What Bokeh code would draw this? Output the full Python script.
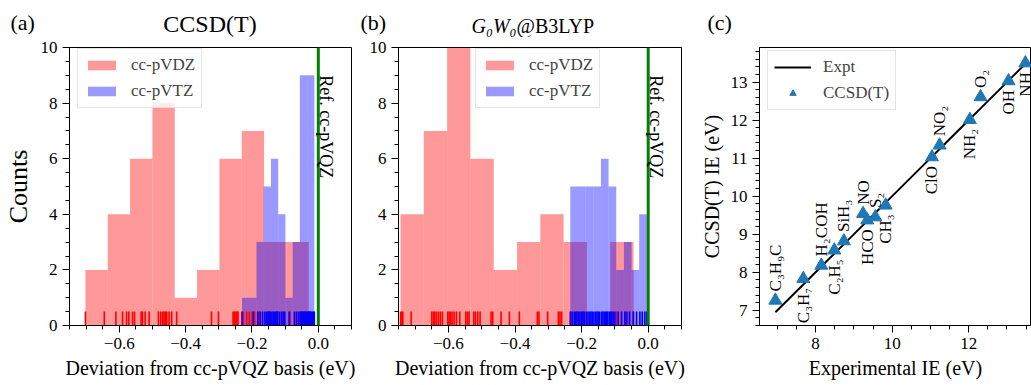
import numpy as np
from bokeh.plotting import figure
from bokeh.layouts import row, column
from bokeh.models import (FixedTicker, CustomJSTickFormatter, Label, Span,
                          Range1d, ColumnDataSource)
from bokeh.embed import file_html
from bokeh.resources import INLINE
from bokeh.core.properties import value

# ---------------- data ----------------
# deviations from cc-pVQZ (eV), one value per molecule
ccsd_dz = [-0.702, -0.645,
           -0.610, -0.590, -0.578, -0.571,
           -0.560, -0.554, -0.534, -0.530, -0.522, -0.510,
           -0.482, -0.475, -0.469, -0.465, -0.461, -0.457, -0.450, -0.442,
           -0.427,
           -0.322, -0.301,
           -0.257, -0.254, -0.251, -0.248, -0.245, -0.242,
           -0.226, -0.216, -0.208, -0.200, -0.192, -0.183, -0.176,
           -0.150, -0.122, -0.105,
           -0.085, -0.058, -0.029]
ccsd_tz = [-0.230,
           -0.196,
           -0.182, -0.175, -0.168,
           -0.161, -0.156, -0.152, -0.148, -0.145,
           -0.140, -0.136, -0.132, -0.128, -0.125, -0.123,
           -0.117, -0.111, -0.106, -0.101,
           -0.088,
           -0.072, -0.066, -0.060,
           -0.054, -0.052, -0.050, -0.047, -0.045, -0.042, -0.040, -0.038, -0.036,
           -0.032, -0.030, -0.028, -0.026, -0.024, -0.021, -0.018, -0.015, -0.012]
g0w0_dz = [-0.744, -0.740, -0.737, -0.712,
           -0.650, -0.645, -0.641, -0.636, -0.630, -0.624, -0.618,
           -0.602, -0.598, -0.594, -0.589, -0.583, -0.576, -0.566, -0.548, -0.543, -0.538,
           -0.524, -0.519, -0.512, -0.505, -0.472, -0.467,
           -0.442, -0.417,
           -0.387, -0.333, -0.328,
           -0.302, -0.270, -0.265, -0.260,
           -0.232, -0.215, -0.195,
           -0.095, -0.070, -0.044]
g0w0_tz = [-0.234, -0.228, -0.222, -0.218, -0.214,
           -0.209, -0.205, -0.200, -0.196, -0.192,
           -0.186, -0.181, -0.176, -0.172, -0.168,
           -0.163, -0.158, -0.154, -0.150, -0.146,
           -0.140, -0.136, -0.132, -0.128, -0.125, -0.122,
           -0.117, -0.113, -0.109, -0.105, -0.100,
           -0.090, -0.080,
           -0.070, -0.064, -0.056,
           -0.045, -0.035,
           -0.025, -0.018, -0.010, -0.004]

molecules = ["C\u2083H\u2089C", "C\u2083H\u2087", "H\u2082COH", "C\u2082H\u2085", "SiH\u2083",
             "NO", "HCO", "S\u2082", "CH\u2083", "ClO", "NO\u2082", "NH\u2082", "O\u2082", "OH", "NH"]
ie_expt = [6.95, 7.68, 8.15, 8.49, 8.74, 9.24, 9.35, 9.56, 9.83, 11.04, 11.24, 12.03, 12.31, 13.04, 13.48]
ie_ccsdt = [7.26, 7.83, 8.18, 8.58, 8.82, 9.54, 9.37, 9.45, 9.76, 11.03, 11.34, 12.01, 12.61, 13.03, 13.50]
label_side = ["above", "below", "above", "below", "above", "above", "below", "above",
              "below", "below", "above", "below", "above", "below", "below"]

basis_labels = ["cc-pVDZ", "cc-pVTZ"]
dev_ticks = [-0.6, -0.4, -0.2, 0.0]
count_ticks = [0, 2, 4, 6, 8, 10]
ie_x_ticks = [8, 10, 12]
ie_y_ticks = [7, 8, 9, 10, 11, 12, 13]

FONT = "Liberation Serif"
minus_fmt = CustomJSTickFormatter(code="return (tick < 0 ? '\\u2212' : '') + Math.abs(tick).toFixed(1);")

STRIP_H = 37
TOP_B = 10
PANEL_H = 385 - STRIP_H


def style_axes(p):
    for ax in p.axis:
        ax.major_tick_out = 7
        ax.major_tick_in = 0
        ax.minor_tick_out = 4
        ax.minor_tick_in = 0
        ax.axis_line_color = "black"
        ax.major_tick_line_color = "black"
        ax.minor_tick_line_color = "black"
        ax.major_label_text_font = FONT
        ax.major_label_text_font_size = "17px"
        ax.major_label_text_color = "black"
        ax.major_label_standoff = 5
        ax.axis_label_text_font = FONT
        ax.axis_label_text_font_style = "normal"
        ax.axis_label_text_font_size = "20px"
        ax.axis_label_text_color = "black"
        ax.axis_label_standoff = 5
    p.grid.visible = False
    p.background_fill_color = "white"
    p.border_fill_color = "white"


def style_legend(lg, loc, gw, gh, lh):
    lg.location = loc
    lg.label_text_font = FONT
    lg.label_text_font_size = "17px"
    lg.glyph_width = gw
    lg.glyph_height = gh
    lg.label_standoff = 12
    lg.label_height = lh
    lg.padding = 6
    lg.spacing = 6
    lg.margin = 0
    lg.border_line_color = "#cccccc"
    lg.background_fill_alpha = 0.8


def hist_panel(dz, tz, width, left, right, ylabel):
    p = figure(width=width, height=PANEL_H, x_range=Range1d(-0.75, 0.1), y_range=Range1d(0, 10),
               min_border_left=left, min_border_right=right, min_border_top=TOP_B,
               min_border_bottom=60, output_backend="svg", toolbar_location=None)
    for vals, col, lab in [(dz, "red", basis_labels[0]), (tz, "blue", basis_labels[1])]:
        counts, edges = np.histogram(vals, bins=10)
        p.quad(left=edges[:-1], right=edges[1:], bottom=0, top=counts,
               fill_color=col, fill_alpha=0.4, line_color=None, legend_label=lab)
    for vals, col in [(dz, "red"), (tz, "blue")]:
        p.segment(x0=vals, y0=0, x1=vals, y1=0.5, line_color=col, line_width=1.6)
    p.add_layout(Span(location=0, dimension="height", line_color="green", line_width=3))
    p.add_layout(Label(x=0, y=9.0, x_offset=8, text="Ref. cc-pVQZ", angle=-np.pi / 2,
                       text_align="left", text_baseline="alphabetic",
                       text_font=FONT, text_font_size="18px", text_color="black"))
    p.xaxis.ticker = FixedTicker(ticks=dev_ticks, minor_ticks=list(np.round(np.arange(-0.75, 0.1001, 0.05), 3)))
    p.xaxis.formatter = minus_fmt
    p.yaxis.ticker = FixedTicker(ticks=count_ticks, minor_ticks=list(np.arange(0, 10.01, 0.5)))
    p.xaxis.axis_label = "Deviation from cc-pVQZ basis (eV)"
    if ylabel:
        p.yaxis.axis_label = ylabel
    style_axes(p)
    if ylabel:
        p.yaxis.axis_label_text_font_size = "26px"
    p.outline_line_color = "black"
    p.outline_line_width = 1
    return p


fa = hist_panel(ccsd_dz, ccsd_tz, 360, 68, 9, "Counts")
style_legend(fa.legend[0], (8, 217), 35, 12, 18)

fb = hist_panel(g0w0_dz, g0w0_tz, 335, 38, 14, None)
style_legend(fb.legend[0], (77, 217), 35, 12, 18)

# ---------------- panel (c) ----------------
fc = figure(width=336, height=PANEL_H, x_range=Range1d(6.535, 13.64), y_range=Range1d(6.6, 13.91),
            min_border_left=64, min_border_right=0, min_border_top=TOP_B, min_border_bottom=60,
            output_backend="svg", toolbar_location=None)
order = np.argsort(ie_expt)
fc.line(x=np.array(ie_expt)[order], y=np.array(ie_expt)[order], line_color="black",
        line_width=2, legend_label="Expt")
fc.scatter(x=ie_expt, y=ie_ccsdt, marker="triangle", size=13, fill_color="#1f77b4",
           line_color="#1f77b4", legend_label="CCSD(T)")
for side, off, align in [("above", -9, "left"), ("below", 9, "right")]:
    idx = [i for i, s in enumerate(label_side) if s == side]
    src = ColumnDataSource(dict(x=[ie_expt[i] for i in idx], y=[ie_ccsdt[i] for i in idx],
                                t=[molecules[i] for i in idx]))
    fc.text(x="x", y="y", text="t", source=src, angle=np.pi / 2, y_offset=off,
            text_align=align, text_baseline="middle", text_font=value(FONT),
            text_font_size=value("17px"), text_color="black")
fc.xaxis.ticker = FixedTicker(ticks=ie_x_ticks, minor_ticks=list(np.arange(7, 14.01, 0.5)))
fc.yaxis.ticker = FixedTicker(ticks=ie_y_ticks, minor_ticks=list(np.round(np.arange(6.6, 13.91, 0.2), 2)))
fc.xaxis.axis_label = "Experimental IE (eV)"
fc.yaxis.axis_label = "CCSD(T) IE (eV)"
style_axes(fc)
fc.outline_line_color = "black"
style_legend(fc.legend[0], (8, 215), 37, 16, 19)

# ---------------- title strip (panel tags and titles) ----------------
ts = figure(width=1031, height=STRIP_H, x_range=Range1d(0, 1031), y_range=Range1d(STRIP_H, 0),
            min_border=0, x_axis_location=None, y_axis_location=None, title=None,
            output_backend="svg", toolbar_location=None)
ts.grid.visible = False
ts.outline_line_color = None
ts.border_fill_color = "white"
ts.background_fill_color = "white"


def strip_text(txt, x, y, size, align="left", style="normal"):
    ts.text(x=[x], y=[y], text=[txt], text_font=value(FONT), text_font_size=value(size),
            text_font_style=style, text_align=align, text_baseline="middle",
            text_color="black")


strip_text("(a)", 10, 22, "22px")
strip_text("CCSD(T)", 209.5, 23, "24px", "center")
strip_text("(b)", 360, 22, "22px")
strip_text("G\u2080W\u2080", 516, 25, "20px", "right", "italic")
strip_text("@B3LYP", 516, 25, "20px", "left")
strip_text("(c)", 707, 22, "22px")

layout = column(ts, row(fa, fb, fc, spacing=0), spacing=0)
open("out.html", "w").write(file_html(layout, INLINE))
